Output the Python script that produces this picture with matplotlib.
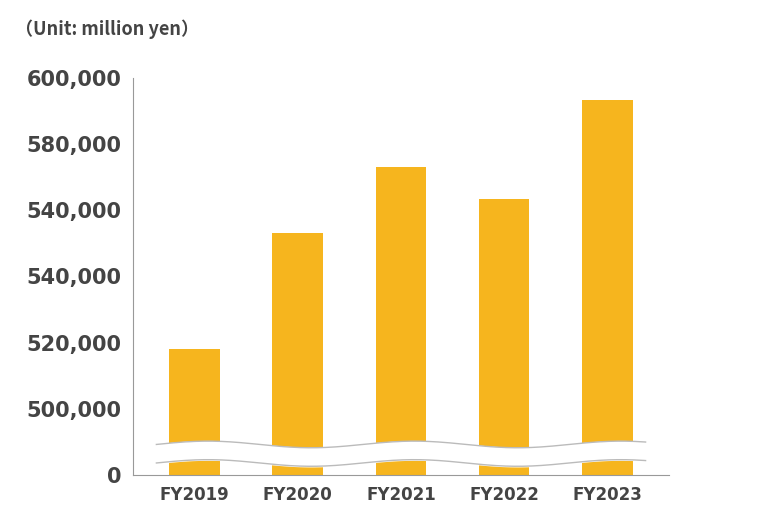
import matplotlib
matplotlib.use("Agg")
import matplotlib.pyplot as plt
import numpy as np

categories = ["FY2019", "FY2020", "FY2021", "FY2022", "FY2023"]
values = [518000, 553000, 573000, 563400, 593400]
tick_labels = ["0", "500,000", "520,000", "540,000", "540,000", "580,000", "600,000"]

def to_pos(v):
    return 1 + (v - 500000) / 20000

fig = plt.figure(figsize=(7.58, 5.30), dpi=100)
ax = fig.add_axes([0.175, 0.104, 0.708, 0.749])
x = np.arange(len(categories))
ax.bar(x, [to_pos(v) for v in values], width=0.49, color="#F6B51E", zorder=2)
ax.set_xlim(-0.6, 4.6)
ax.set_ylim(0, 6)
ax.set_yticks(range(len(tick_labels)))
ax.set_yticklabels(tick_labels)
ax.set_xticks(x)
ax.set_xticklabels(categories)
for s in ["top", "right"]:
    ax.spines[s].set_visible(False)
for s in ["left", "bottom"]:
    ax.spines[s].set_color("#999999")
ax.tick_params(length=0, pad=8, colors="#444444")
for lab in ax.get_yticklabels():
    lab.set_fontsize(15); lab.set_fontweight("bold")
for lab in ax.get_xticklabels():
    lab.set_fontsize(12); lab.set_fontweight("bold")

# wavy break
xs = np.linspace(-0.37, 4.37, 400)
wave = 0.05 * np.sin((xs + 0.37) * 2 * np.pi / 2.0)
lo = 0.18 + wave
hi = 0.46 + wave
ax.fill_between(xs, lo, hi, color="white", zorder=3)
ax.plot(xs, lo, color="#bbbbbb", lw=1, zorder=4)
ax.plot(xs, hi, color="#bbbbbb", lw=1, zorder=4)

fig.text(0.02, 0.945, "（Unit: million yen）", fontsize=13, fontweight="bold",
         color="#444444", fontfamily="Noto Sans CJK JP", va="center")
fig.savefig("out.png", dpi=100)
